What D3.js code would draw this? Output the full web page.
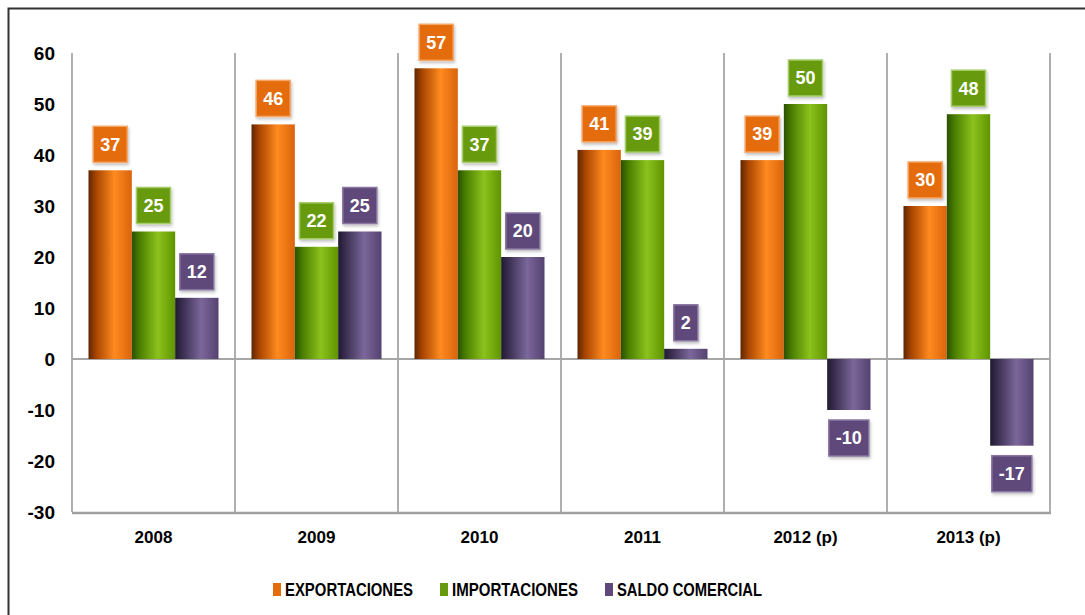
<!DOCTYPE html>
<html>
<head>
<meta charset="utf-8">
<script src="https://cdn.jsdelivr.net/npm/d3@7"></script>
<style>
body { margin:0; background:#fff; }
text { font-family: "Liberation Sans", Arial, sans-serif; font-weight:bold; }
</style>
</head>
<body>
<svg id="graph1"></svg>
<script>
var years = ["2008", "2009", "2010", "2011", "2012 (p)", "2013 (p)"]
var seriesNames = ["EXPORTACIONES", "IMPORTACIONES", "SALDO COMERCIAL"]
var exportaciones = [37, 46, 57, 41, 39, 30]
var importaciones = [25, 22, 37, 39, 50, 48]
var saldo = [12, 25, 20, 2, -10, -17]
var yTicks = [60, 50, 40, 30, 20, 10, 0, -10, -20, -30]

var screen = {width:1085, height:615}
var margins = {top:53, bottom:103, left:72, right:35}

var colors = [
    {box:"#e46c0a", edge:"#f5a566", stops:["#5e2600", "#a84500", "#ff8a1f", "#d9640c"]},
    {box:"#689a10", edge:"#a6cc6a", stops:["#2a5000", "#4a7e00", "#8cc21c", "#5f9400"]},
    {box:"#5f497a", edge:"#8a78a2", stops:["#201a30", "#3b2f52", "#7b679a", "#544270"]}
]

var setup = function()
{
    var svg = d3.select("#graph1")
        .attr("width", screen.width)
        .attr("height", screen.height)

    var width = screen.width - margins.left - margins.right
    var height = screen.height - margins.top - margins.bottom

    var defs = svg.append("defs")
    colors.forEach(function(c, i)
    {
        var g = defs.append("linearGradient")
            .attr("id", "grad" + i)
            .attr("x1", 0).attr("x2", 1).attr("y1", 0).attr("y2", 0)
        var offs = [0, 0.18, 0.6, 1]
        c.stops.forEach(function(s, j)
        {
            g.append("stop").attr("offset", offs[j]).attr("stop-color", s)
        })
    })
    var f = defs.append("filter").attr("id", "shadow")
        .attr("x", "-20%").attr("y", "-20%").attr("width", "150%").attr("height", "150%")
    f.append("feDropShadow").attr("dx", 1).attr("dy", 2).attr("stdDeviation", 1.5)
        .attr("flood-color", "#000").attr("flood-opacity", 0.25)

    // outer frame
    svg.append("path")
        .attr("d", "M8.5," + screen.height + "V8.5H" + screen.width)
        .attr("fill", "none")
        .attr("stroke", "#333")
        .attr("stroke-width", 2)

    var plot = svg.append("g")
        .attr("class", "graph")
        .attr("transform", "translate(" + margins.left + "," + margins.top + ")")

    var xScale = d3.scaleBand()
        .domain(years)
        .range([0, width])

    var innerScale = d3.scaleBand()
        .domain([0, 1, 2])
        .range([16.5, xScale.bandwidth() - 16.5])

    var yScale = d3.scaleLinear()
        .domain([-30, 60])
        .range([height, 0])

    // vertical separators
    var seps = years.map(function(y) { return xScale(y) }).concat([width])
    plot.selectAll(".sep")
        .data(seps)
        .enter()
        .append("line")
        .attr("class", "sep")
        .attr("x1", function(d) { return d })
        .attr("x2", function(d) { return d })
        .attr("y1", 0)
        .attr("y2", height)
        .attr("stroke", "#a6a6a6")
        .attr("stroke-width", 1.8)

    // zero line
    plot.append("line")
        .attr("x1", 0).attr("x2", width)
        .attr("y1", yScale(0)).attr("y2", yScale(0))
        .attr("stroke", "#a6a6a6")
        .attr("stroke-width", 1.8)

    // bottom line
    plot.append("line")
        .attr("x1", 0).attr("x2", width + 1)
        .attr("y1", height + 1).attr("y2", height + 1)
        .attr("stroke", "#a0a0a0")
        .attr("stroke-width", 2.5)

    var yAxis = d3.axisLeft(yScale)
        .tickValues(yTicks)
        .tickFormat(function(d) { return String(d) })
        .tickSize(0)
        .tickPadding(17)
    plot.append("g")
        .attr("id", "yAxis")
        .call(yAxis)
        .call(function(g) { g.select(".domain").remove() })
        .selectAll("text")
        .attr("font-size", 19)
        .attr("fill", "#000")
        .attr("font-family", null)

    var xAxis = d3.axisBottom(xScale)
        .tickSize(0)
        .tickPadding(19)
    plot.append("g")
        .attr("id", "xAxis")
        .attr("transform", "translate(0," + height + ")")
        .call(xAxis)
        .call(function(g) { g.select(".domain").remove() })
        .selectAll("text")
        .attr("font-size", 17)
        .attr("fill", "#000")
        .attr("font-family", null)

    drawBars(plot, xScale, innerScale, yScale)
    drawLegend(svg)
}

var drawBars = function(plot, xScale, innerScale, yScale)
{
    var allSeries = [exportaciones, importaciones, saldo]
    var rows = []
    allSeries.forEach(function(values, s)
    {
        values.forEach(function(v, i)
        {
            rows.push({year:years[i], value:v, s:s})
        })
    })

    plot.selectAll(".bar")
        .data(rows)
        .enter()
        .append("rect")
        .attr("class", "bar")
        .attr("x", function(d) { return xScale(d.year) + innerScale(d.s) })
        .attr("width", innerScale.bandwidth())
        .attr("y", function(d) { return yScale(Math.max(0, d.value)) })
        .attr("height", function(d) { return Math.abs(yScale(d.value) - yScale(0)) })
        .attr("fill", function(d) { return "url(#grad" + d.s + ")" })

    var labels = plot.selectAll(".lbl")
        .data(rows)
        .enter()
        .append("g")
        .attr("class", "lbl")
        .attr("transform", function(d)
        {
            var cx = xScale(d.year) + innerScale(d.s) + innerScale.bandwidth() / 2
            var cy = d.value >= 0 ? yScale(d.value) - 26 : yScale(d.value) + 28
            return "translate(" + cx + "," + cy + ")"
        })

    labels.append("rect")
        .attr("filter", "url(#shadow)")
        .attr("y", -18)
        .attr("height", 36)
        .attr("fill", function(d) { return colors[d.s].box })
        .attr("stroke", function(d) { return colors[d.s].edge })
        .attr("stroke-width", 1.5)

    labels.append("text")
        .attr("text-anchor", "middle")
        .attr("dy", "0.35em")
        .attr("font-size", 18)
        .attr("fill", "#fff")
        .text(function(d) { return d.value })

    labels.each(function()
    {
        var g = d3.select(this)
        var w = g.select("text").node().getBBox().width + 14
        g.select("rect").attr("x", -w / 2).attr("width", w)
    })
}

var drawLegend = function(svg)
{
    var xs = [273, 440, 605]
    var lens = [128, 126, 145]
    var leg = svg.selectAll(".leg")
        .data(seriesNames)
        .enter()
        .append("g")
        .attr("class", "leg")
        .attr("transform", function(d, i) { return "translate(" + xs[i] + ",583)" })

    leg.append("rect")
        .attr("width", 8)
        .attr("height", 13)
        .attr("fill", function(d, i) { return colors[i].box })

    leg.append("text")
        .attr("x", 12)
        .attr("y", 13)
        .attr("font-size", 18)
        .attr("fill", "#000")
        .attr("textLength", function(d, i) { return lens[i] })
        .attr("lengthAdjust", "spacingAndGlyphs")
        .text(function(d) { return d })
}

setup()
</script>
</body>
</html>
